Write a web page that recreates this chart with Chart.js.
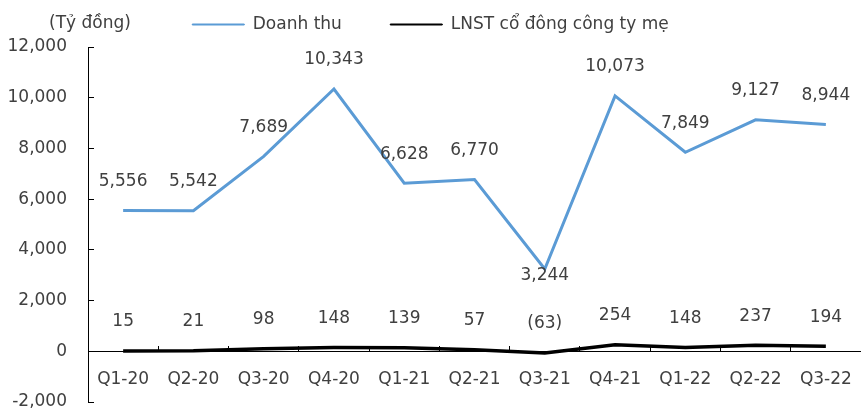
<!DOCTYPE html>
<html lang="vi">
<head>
<meta charset="UTF-8">
<title>Doanh thu và LNST</title>
<script src="https://cdn.jsdelivr.net/npm/chart.js"></script>
<style>
  html, body { margin: 0; padding: 0; background: #fff; overflow: hidden; }
  #wrap { width: 861px; height: 412px; }
</style>
</head>
<body>
<div id="wrap"><canvas id="chart"></canvas></div>
<script>
// du lieu doc tu hinh
const quarters = ['Q1-20', 'Q2-20', 'Q3-20', 'Q4-20', 'Q1-21', 'Q2-21', 'Q3-21', 'Q4-21', 'Q1-22', 'Q2-22', 'Q3-22'];
const doanhThu = [5556, 5542, 7689, 10343, 6628, 6770, 3244, 10073, 7849, 9127, 8944];
const lnst = [15, 21, 98, 148, 139, 57, -63, 254, 148, 237, 194];
const unitLabel = '(Tỷ đồng)';

const FONT = 'DejaVu Sans';
const TEXT = '#404040';

function fmt(v) {
  const s = Math.abs(v).toLocaleString('en-US');
  return v < 0 ? '(' + s + ')' : s;
}

// nhan so lieu tren cac diem
const valueLabels = {
  id: 'valueLabels',
  afterDatasetsDraw(chart) {
    const ctx = chart.ctx;
    ctx.save();
    ctx.font = '17px "' + FONT + '"';
    ctx.fillStyle = TEXT;
    ctx.textAlign = 'center';
    ctx.textBaseline = 'middle';
    chart.data.datasets.forEach((ds, di) => {
      const meta = chart.getDatasetMeta(di);
      meta.data.forEach((pt, i) => {
        let dy = -29;
        if (di === 0 && i === 6) dy = 7; // 3,244 nam duoi diem
        ctx.fillText(fmt(ds.data[i]), pt.x, pt.y + dy);
      });
    });
    ctx.restore();
  }
};

// don vi o goc tren ben trai
const unitText = {
  id: 'unitText',
  afterDraw(chart) {
    const ctx = chart.ctx;
    ctx.save();
    ctx.font = '17px "' + FONT + '"';
    ctx.fillStyle = TEXT;
    ctx.textAlign = 'center';
    ctx.textBaseline = 'middle';
    ctx.fillText(unitLabel, 90, 24);
    ctx.restore();
  }
};

new Chart(document.getElementById('chart'), {
  type: 'line',
  data: {
    labels: quarters,
    datasets: [{
      label: 'Doanh thu',
      data: doanhThu,
      borderColor: '#5B9BD5',
      backgroundColor: '#5B9BD5',
      borderWidth: 3,
      pointRadius: 0,
      tension: 0
    }, {
      label: 'LNST cổ đông công ty mẹ',
      data: lnst,
      borderColor: '#000000',
      backgroundColor: '#000000',
      borderWidth: 3.5,
      pointRadius: 0,
      tension: 0
    }]
  },
  options: {
    responsive: true,
    maintainAspectRatio: false,
    animation: false,
    layout: { padding: 0 },
    plugins: {
      legend: {
        position: 'top',
        labels: {
          color: TEXT,
          font: { family: FONT, size: 17 },
          boxWidth: 52,
          boxHeight: 1,
          padding: 16,
          generateLabels(chart) {
            const items = Chart.defaults.plugins.legend.labels.generateLabels(chart);
            items.forEach((it, i) => {
              it.lineWidth = 1;
              if (i === 0) it.text = it.text + '      ';
            });
            return items;
          }
        }
      },
      // khoang trong giua chu thich va vung ve
      subtitle: {
        display: true,
        text: '',
        weight: 100,
        padding: 0,
        font: { size: 4, lineHeight: 1 }
      },
      tooltip: { enabled: false }
    },
    scales: {
      x: {
        position: { y: 0 },
        offset: true,
        afterFit(scale) {
          scale.height = 0;
          scale.paddingLeft = 0;
          scale.paddingRight = 0;
        },
        grid: {
          offset: true,
          drawOnChartArea: false,
          color: '#000',
          tickLength: -6
        },
        border: { color: '#000', width: 1 },
        ticks: {
          color: TEXT,
          font: { family: FONT, size: 17 },
          padding: 24,
          maxRotation: 0,
          autoSkip: false
        }
      },
      y: {
        min: -2000,
        max: 12000,
        afterFit(scale) {
          scale.width = 88;
          scale.paddingTop = 10;
          scale.paddingBottom = 10;
        },
        grid: {
          drawOnChartArea: false,
          color: '#000',
          tickLength: -6
        },
        border: { color: '#000', width: 1 },
        ticks: {
          stepSize: 2000,
          color: TEXT,
          font: { family: FONT, size: 17 },
          padding: 27,
          callback: v => v.toLocaleString('en-US')
        }
      }
    }
  },
  plugins: [valueLabels, unitText]
});
</script>
</body>
</html>
